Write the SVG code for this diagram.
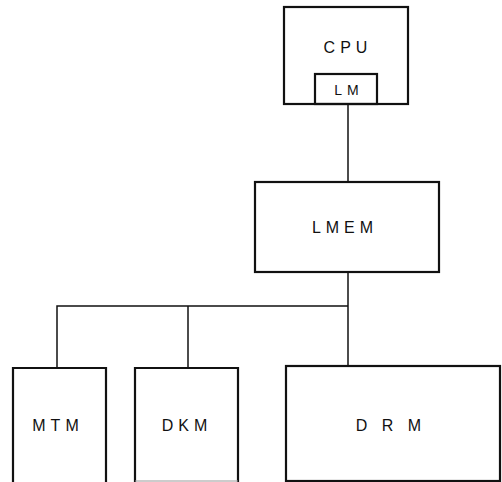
<svg xmlns="http://www.w3.org/2000/svg" width="502" height="482" viewBox="0 0 502 482">
<style>
.box{fill:none;stroke:#111;stroke-width:2.2}
.ln{fill:none;stroke:#111;stroke-width:1.5}
text{font-family:"Liberation Sans",Arial,sans-serif;font-size:16px;fill:#111;text-anchor:middle;letter-spacing:5px}
</style>
<rect width="502" height="482" fill="#fff"/>
<g id="connectors">
<line class="ln" x1="348" y1="104" x2="348" y2="182"/>
<line class="ln" x1="348" y1="272" x2="348" y2="366"/>
<polyline class="ln" points="57,368 57,306 348,306"/>
<line class="ln" x1="188" y1="306" x2="188" y2="368"/>
</g>
<g id="cpu">
<rect class="box" x="284" y="7" width="124" height="97"/>
<text x="348" y="53">CPU</text>
</g>
<g id="lm">
<rect class="box" x="315" y="74" width="62" height="30"/>
<text x="349" y="95" style="font-size:14px">LM</text>
</g>
<g id="lmem">
<rect class="box" x="255" y="182" width="184" height="90"/>
<text x="345" y="233">LMEM</text>
</g>
<g id="mtm">
<path class="box" d="M13,482 V368 H106 V482"/>
<text x="58" y="431">MTM</text>
</g>
<g id="dkm">
<path class="box" d="M135,482 V368 H238 V482"/>
<line x1="135" y1="481" x2="238" y2="481" stroke="#999" stroke-width="1"/>
<text x="187" y="431">DKM</text>
</g>
<g id="drm">
<rect class="box" x="286" y="366" width="214" height="115"/>
<text x="391" y="431">D R M</text>
</g>
</svg>
